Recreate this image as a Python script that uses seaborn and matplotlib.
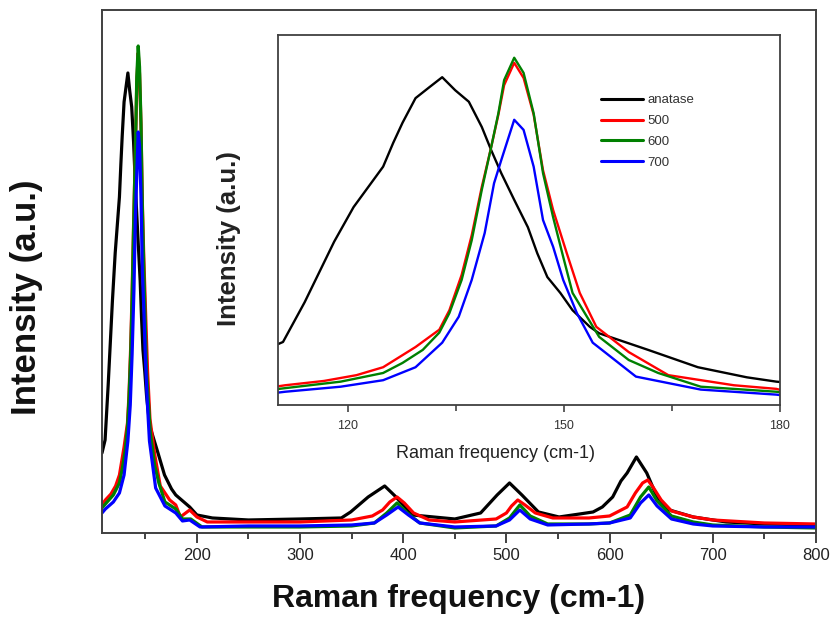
import matplotlib
matplotlib.use("Agg")
import matplotlib.pyplot as plt
import seaborn as sns
import pandas as pd
from matplotlib.ticker import MultipleLocator, FixedLocator

# ---------------- data (arbitrary intensity units) ----------------
samples = ["anatase", "500", "600", "700"]
colors = ["#000000", "#ff0000", "#008000", "#0000ff"]

black_x = [108, 111.0, 114.0, 118.1, 120.8, 124.9, 126.3, 127.6, 129.4, 131.3, 133.1, 134.9, 136.8,
           138.6, 139.9, 141.3, 143.1, 145.0, 146.3, 147.7, 149.5, 151.2, 153.6, 154.9, 161.7, 168.6,
           175.4, 179.5, 193, 200, 215, 250, 300, 340, 349, 366, 382, 392, 409, 450, 475, 491, 503,
           515, 531, 551, 571, 584, 593, 603, 611, 617, 626, 636, 646, 658, 681, 713, 750, 800]
black_y = [80, 93, 148, 232, 280, 336, 369, 397, 431, 446, 460, 442, 426,
           391, 359, 327, 290, 252, 216, 183, 161, 137, 114, 105, 82, 58,
           44, 38, 26, 18, 15, 13, 14, 15, 21, 36, 47, 37, 18, 14, 20, 38, 50,
           38, 21, 16, 19, 21, 26, 36, 52, 60, 76, 60, 36, 23, 16, 11, 9, 8]

red_x = [108, 111.3, 116.7, 121.2, 124.9, 129.4, 132.7, 134.1, 135.8, 137.2, 138.6, 139.9, 140.9,
         141.7, 143.1, 144.4, 145.8, 147.1, 148.5, 150.4, 152.2, 154.5, 159.0, 164.5, 173.6, 179.5,
         184, 193, 200, 210, 250, 300, 350, 370, 380, 387, 394, 401, 410, 425, 450, 490, 500, 505,
         511, 518, 528, 545, 580, 600, 617, 625, 632, 637, 642, 650, 660, 681, 700, 750, 800]
red_y = [28, 33, 39, 47, 58, 86, 110, 137, 186, 241, 308, 363, 408,
         449, 480, 459, 408, 331, 276, 216, 161, 114, 79, 47, 33, 28,
         16, 23, 16, 11, 11, 11, 13, 17, 23, 31, 36, 30, 20, 13, 11, 14, 20, 27,
         33, 28, 20, 15, 15, 17, 26, 40, 50, 53, 46, 33, 22, 16, 13, 10, 9]

green_x = [108, 111.3, 119.0, 124.9, 127.6, 130.4, 132.7, 134.1, 135.8, 137.2, 138.6, 139.9, 140.9,
           141.7, 143.1, 144.4, 145.8, 147.1, 148.5, 149.9, 151.2, 153.2, 154.9, 159.0, 163.1, 169.0,
           179.5, 186, 194, 205, 250, 300, 350, 372, 384, 394, 404, 416, 450, 490, 503, 513, 523,
           540, 580, 600, 620, 630, 638, 646, 660, 681, 700, 750, 800]
green_y = [25, 29, 38, 50, 64, 82, 106, 133, 179, 234, 304, 363, 410,
           456, 487, 466, 410, 327, 266, 211, 161, 128, 100, 68, 50, 31,
           24, 14, 14, 6, 6, 6, 7, 10, 20, 30, 20, 10, 5, 7, 15, 28, 17,
           9, 9, 10, 18, 36, 46, 32, 17, 11, 8, 6, 5]

blue_x = [108, 111.3, 119.0, 124.9, 129.4, 133.1, 135.4, 137.2, 139.0, 140.3, 141.3, 142.2, 143.1,
          144.4, 145.8, 147.1, 148.5, 149.9, 151.8, 154.0, 154.9, 160.0, 169.0, 179.5, 186, 193,
          203, 250, 300, 350, 372, 384, 395, 405, 416, 450, 490, 503, 513, 523, 540, 580, 600,
          620, 630, 638, 646, 660, 681, 700, 750, 800]
blue_y = [20, 24, 31, 40, 58, 92, 128, 179, 244, 313, 345, 373, 401,
          387, 336, 262, 225, 179, 133, 92, 85, 45, 27, 20, 12, 13,
          6, 7, 7, 8, 10, 18, 26, 18, 10, 6, 7, 13, 23, 14, 8, 9, 10,
          15, 30, 38, 27, 14, 9, 7, 6, 6]

main_ticks = [200, 300, 400, 500, 600, 700, 800]
inset_ticks = [120, 150, 180]

xs = [black_x, red_x, green_x, blue_x]
ys = [black_y, red_y, green_y, blue_y]
df = pd.concat([pd.DataFrame({"freq": x, "intensity": y, "sample": s})
                for x, y, s in zip(xs, ys, samples)], ignore_index=True)
palette = dict(zip(samples, colors))

# ---------------- figure ----------------
sns.set_style("white")
plt.rcParams["font.family"] = ["Liberation Sans", "DejaVu Sans"]

fig = plt.figure(figsize=(8.36, 6.23), dpi=100)
ax = fig.add_axes([0.122, 0.1445, 0.854, 0.8395])
sns.lineplot(data=df, x="freq", y="intensity", hue="sample", palette=palette,
             hue_order=samples, sort=False, estimator=None, linewidth=2.3, ax=ax, legend=False)
ax.set_xlim(108, 800)
ax.set_ylim(0, 523)
ax.set_yticks([])
ax.xaxis.set_major_locator(FixedLocator(main_ticks))
ax.xaxis.set_minor_locator(MultipleLocator(50))
ax.tick_params(axis="x", which="major", direction="out", length=7, width=1.3,
               color="#333333", labelsize=12, labelcolor="#222222", bottom=True, pad=4)
ax.tick_params(axis="x", which="minor", direction="out", length=4, width=1.3,
               color="#333333", bottom=True)
for sp in ax.spines.values():
    sp.set_visible(True)
    sp.set_color("#404040")
    sp.set_linewidth(1.4)
ax.set_xlabel("Raman frequency (cm-1)", fontsize=23, fontweight="bold", color="#111111")
ax.xaxis.set_label_coords(0.499, -0.098)
ax.set_ylabel("Intensity (a.u.)", fontsize=25, fontweight="bold", color="#111111")
ax.yaxis.set_label_coords(-0.082, 0.451)

# ---------------- inset ----------------
ins = fig.add_axes([0.3325, 0.350, 0.6005, 0.5938])
sns.lineplot(data=df, x="freq", y="intensity", hue="sample", palette=palette,
             hue_order=samples, sort=False, estimator=None, linewidth=1.7, ax=ins)
ins.set_xlim(110.3, 180)
ins.set_ylim(5.7, 518.5)
ins.set_yticks([])
ins.xaxis.set_major_locator(FixedLocator(inset_ticks))
ins.xaxis.set_minor_locator(MultipleLocator(15))
ins.tick_params(axis="x", which="major", direction="out", length=5, width=1.1,
                color="#333333", labelsize=9, labelcolor="#333333", bottom=True, pad=6)
ins.tick_params(axis="x", which="minor", direction="out", length=4, width=1.1,
                color="#333333", bottom=True)
for sp in ins.spines.values():
    sp.set_visible(True)
    sp.set_color("#404040")
    sp.set_linewidth(1.3)
ins.set_xlabel("Raman frequency (cm-1)", fontsize=13, color="#222222")
ins.xaxis.set_label_coords(0.434, -0.108)
ins.set_ylabel("Intensity (a.u.)", fontsize=18.5, fontweight="bold", color="#222222")
ins.yaxis.set_label_coords(-0.074, 0.45)

leg = ins.legend(loc="upper left", bbox_to_anchor=(0.62, 0.872), frameon=False,
                 fontsize=9.5, handlelength=3.2, labelspacing=0.65, handletextpad=0.3)
for t in leg.get_texts():
    t.set_color("#333333")
for h in leg.get_lines():
    h.set_linewidth(2.2)

fig.savefig("out.png", dpi=100)
